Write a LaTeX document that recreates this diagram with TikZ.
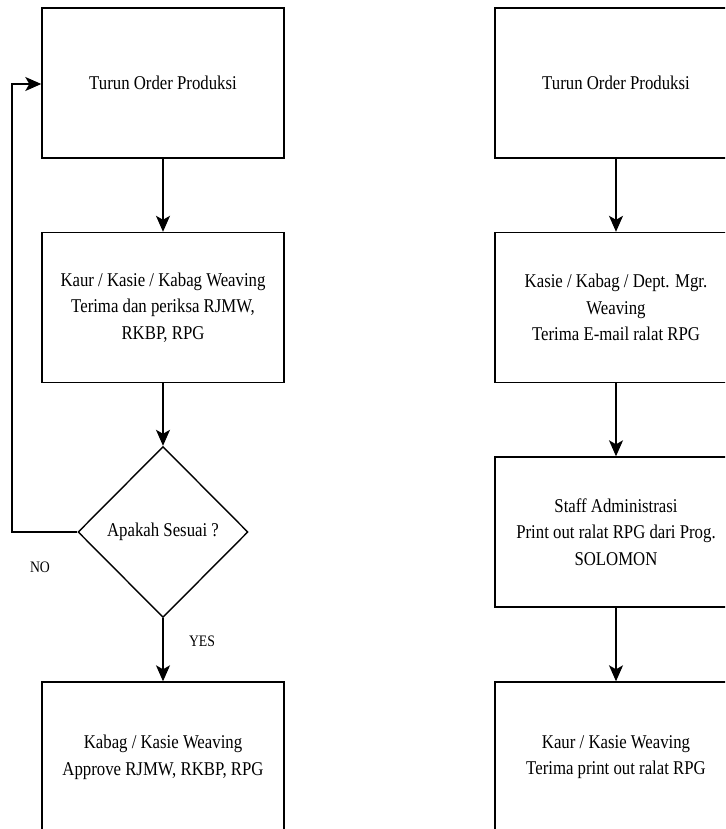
\documentclass[tikz,border=0pt]{standalone}
\usepackage{fontspec}
\setmainfont{Liberation Serif}[FakeStretch=0.86]
\usetikzlibrary{shapes.geometric,arrows.meta}
\tikzset{
  procbox/.style={draw=black, line width=1.4pt, minimum width=242pt, minimum height=150pt, inner sep=0pt},
  decision/.style={draw=black, line width=1.4pt, diamond, aspect=1, minimum width=170pt, minimum height=171pt, inner sep=0pt},
  boxtext/.style={align=center, font=\fontsize{19.5}{26.7}\selectfont},
  lbl/.style={font=\fontsize{16}{19}\selectfont, inner sep=0pt},
  conn/.style={line width=1.4pt, -{Stealth[length=16pt,width=14pt,inset=4pt]}}
}
\begin{document}
\begin{tikzpicture}[x=1pt,y=-1pt]
\useasboundingbox (0,0) rectangle (725,829);
\clip (0,0) rectangle (725,829);
\fill[white] (0,0) rectangle (725,829);
% left column
\node[procbox, boxtext] (a1) at (163,83) {Turun Order Produksi};
\node[procbox, boxtext] (a2) at (163,307.5) {Kaur / Kasie / Kabag Weaving\\Terima dan periksa RJMW,\\RKBP, RPG};
\node[decision, boxtext] (d) at (163,532) {Apakah Sesuai ?};
\node[procbox, boxtext] (a3) at (163,757) {Kabag / Kasie Weaving\\Approve RJMW, RKBP, RPG};
\coordinate (lp) at (12,532);
\coordinate (lq) at (12,84);
\draw[conn] (a1.south) -- (a2.north);
\draw[conn] (a2.south) -- (d.north);
\draw[conn] (d.south) -- (a3.north);
\draw[conn] (d.west) -- (lp) -- (lq) -- (a1.west |- lq);
\node[lbl] (no) at (40,567) {NO};
\node[lbl] (yes) at (202,641) {YES};
% right column
\node[procbox, boxtext] (b1) at (616,83) {Turun Order Produksi};
\node[procbox, boxtext] (b2) at (616,307.5) {Kasie / Kabag / Dept. Mgr.\\Weaving\\Terima E-mail ralat RPG};
\node[procbox, boxtext] (b3) at (616,532) {Staff Administrasi\\Print out ralat RPG dari Prog.\\SOLOMON};
\node[procbox, boxtext] (b4) at (616,757) {Kaur / Kasie Weaving\\Terima print out ralat RPG};
\draw[conn] (b1.south) -- (b2.north);
\draw[conn] (b2.south) -- (b3.north);
\draw[conn] (b3.south) -- (b4.north);
\end{tikzpicture}
\end{document}
